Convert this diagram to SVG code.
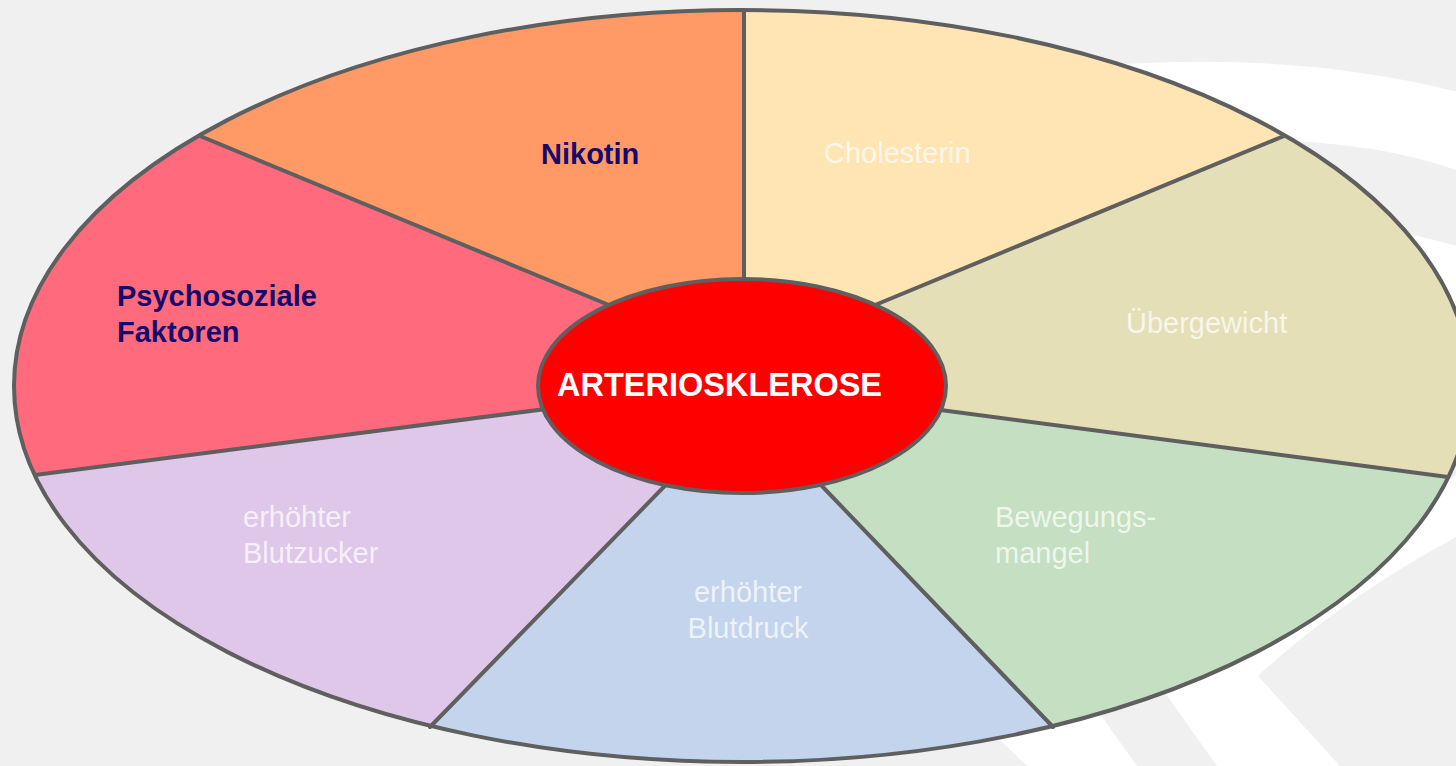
<svg xmlns="http://www.w3.org/2000/svg" width="1456" height="766" viewBox="0 0 1456 766">
  <defs>
    <clipPath id="outerClip">
      <ellipse cx="742" cy="386" rx="728" ry="376"/>
    </clipPath>
    <style>
      .lbl { font-family: "Liberation Sans", Arial, sans-serif; font-size: 29px; }
      .dark { font-weight: bold; fill: #15096b; }
      .light { fill: #ffffff; fill-opacity: 0.72; }
      .line { stroke: #5f5f5f; stroke-width: 4; fill: none; stroke-linecap: round; }
      .band { fill: #ffffff; }
    </style>
  </defs>

  <!-- background -->
  <rect x="0" y="0" width="1456" height="766" fill="#f0f0f0"/>
  <g id="background-bands">
    <path class="band" d="M1100,66 Q1300,50 1470,95 L1470,175 Q1380,140 1250,140 Z"/>
    <path class="band" d="M1330,222 Q1400,228 1470,250 L1470,320 L1330,300 Z"/>
    <path class="band" d="M1163,690 L1217,766 L1340,766 L1258,676 Q1340,600 1456,537 L1456,475 L1300,580 Z"/>
    <path class="band" d="M1000,740 L1027,766 L1137,766 L1090,700 Z"/>
  </g>

  <g clip-path="url(#outerClip)">
    <g id="nikotin">
      <polygon points="742,386 744,300 744,-40 145,-40 145,113 650,322" fill="#ff9966"/>
    </g>
    <g id="psychosoziale">
      <polygon points="742,386 650,322 145,113 -60,113 -60,483 -25,483 600,402" fill="#ff6b7c"/>
    </g>
    <g id="blutzucker">
      <polygon points="742,386 600,402 -25,483 -60,483 -60,800 388,800 388,770 690,460" fill="#dfc7ea"/>
    </g>
    <g id="blutdruck">
      <polygon points="742,386 690,460 388,770 388,800 1095,800 1095,771 797,460" fill="#c3d4ec"/>
    </g>
    <g id="bewegungsmangel">
      <polygon points="742,386 797,460 1095,771 1095,800 1520,800 1520,485 1508,485 880,402" fill="#c4dfc1"/>
    </g>
    <g id="uebergewicht">
      <polygon points="742,386 880,402 1508,485 1520,485 1520,113 1340,113 834,322" fill="#e4dfb6"/>
    </g>
    <g id="cholesterin">
      <polygon points="742,386 834,322 1340,113 1340,-40 744,-40 744,300" fill="#ffe5b3"/>
    </g>
  </g>
  <ellipse id="outer-ring" cx="742" cy="386" rx="728" ry="376" fill="none" stroke="#5f5f5f" stroke-width="4"/>

  <g id="connectors">
    <line class="line" x1="744" y1="10" x2="744" y2="300"/>
    <line class="line" x1="200" y1="136" x2="650" y2="322"/>
    <line class="line" x1="35" y1="475" x2="600" y2="402"/>
    <line class="line" x1="430" y1="727" x2="690" y2="460"/>
    <line class="line" x1="1053" y1="727" x2="797" y2="460"/>
    <line class="line" x1="1448" y1="477" x2="880" y2="402"/>
    <line class="line" x1="1284" y1="136" x2="834" y2="322"/>
  </g>

  <g id="arteriosklerose">
    <ellipse cx="742" cy="386" rx="204" ry="107" fill="#ff0000" stroke="#5f5f5f" stroke-width="4"/>
    <text class="lbl" x="557" y="396" font-weight="bold" fill="#ffffff" style="font-size:32.5px">ARTERIOSKLEROSE</text>
  </g>

  <g id="labels">
    <text class="lbl dark" x="541" y="164">Nikotin</text>
    <text class="lbl dark" x="117" y="306">Psychosoziale</text>
    <text class="lbl dark" x="117" y="342">Faktoren</text>
    <text class="lbl light" x="824" y="163">Cholesterin</text>
    <text class="lbl light" x="1126" y="333">Übergewicht</text>
    <text class="lbl light" x="995" y="527">Bewegungs-</text>
    <text class="lbl light" x="995" y="563">mangel</text>
    <text class="lbl light" x="748" y="602" text-anchor="middle">erhöhter</text>
    <text class="lbl light" x="748" y="638" text-anchor="middle">Blutdruck</text>
    <text class="lbl light" x="243" y="527">erhöhter</text>
    <text class="lbl light" x="243" y="563">Blutzucker</text>
  </g>
</svg>
